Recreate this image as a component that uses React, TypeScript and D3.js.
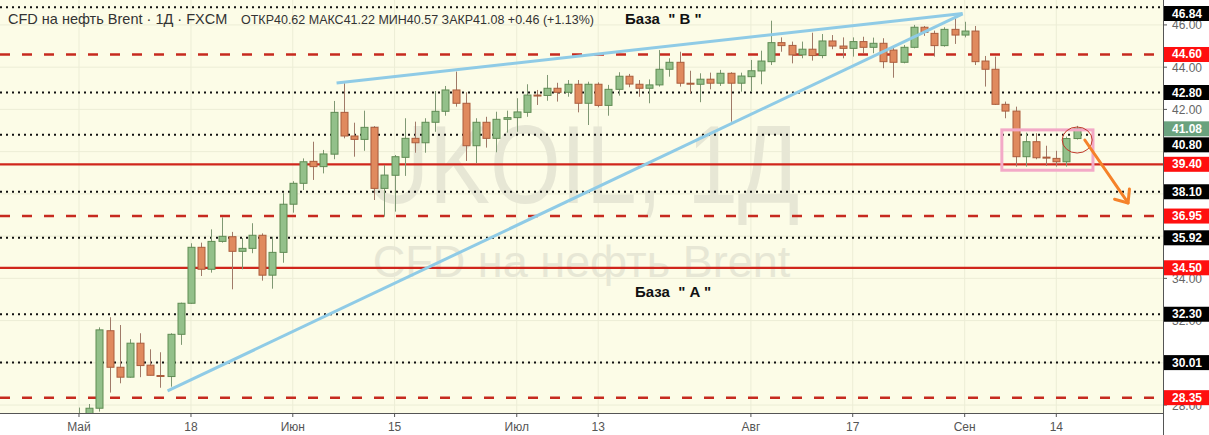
import React from 'react';
import * as d3 from 'd3';

// ---------- data ----------
const opens = [27.0, 27.3, 27.85, 31.52, 29.79, 29.32, 30.93, 29.89, 29.4, 29.35,
  31.35, 32.82, 35.47, 34.43, 35.75, 35.97, 35.28, 35.42, 36.04, 34.15,
  35.23, 37.51, 38.5, 39.54, 39.29, 39.88, 41.86, 40.74, 40.58, 41.15,
  38.26, 38.88, 39.73, 40.63, 40.42, 41.39, 41.91, 42.92, 42.29, 40.28,
  41.39, 40.63, 41.53, 41.61, 41.86, 42.68, 42.66, 43.0, 42.81, 43.19,
  42.29, 43.19, 42.19, 42.95, 43.57, 43.19, 43.0, 43.16, 43.9, 44.23,
  43.24, 43.19, 43.43, 43.24, 43.71, 43.24, 43.55, 43.82, 44.26, 45.16,
  45.03, 44.58, 44.85, 44.55, 45.24, 45.0, 44.89, 45.21, 44.94, 45.13,
  44.81, 44.23, 44.94, 45.89, 45.6, 45.02, 45.79, 45.52, 45.71, 44.29,
  43.9, 42.24, 41.92, 39.76, 40.47, 39.74, 39.68, 39.52, 40.62];
const highs = [27.88, 28.05, 31.68, 32.16, 31.79, 31.12, 31.4, 30.64, 30.5, 31.4,
  32.85, 35.66, 35.69, 36.32, 36.89, 36.2, 35.91, 36.61, 36.13, 35.97,
  38.03, 38.6, 39.68, 40.47, 40.08, 42.4, 43.24, 41.37, 41.94, 41.21,
  39.37, 39.84, 41.58, 41.42, 41.58, 42.87, 43.11, 43.79, 42.81, 41.58,
  41.65, 41.89, 41.94, 42.53, 43.19, 42.92, 43.63, 43.26, 43.39, 43.39,
  43.31, 43.28, 43.16, 43.76, 43.68, 43.39, 43.42, 44.81, 44.42, 44.73,
  43.83, 43.71, 43.74, 43.87, 43.76, 43.74, 44.34, 44.78, 46.2, 45.41,
  45.21, 45.21, 45.63, 45.57, 45.52, 45.41, 45.41, 45.44, 45.4, 45.37,
  44.97, 45.05, 46.0, 45.95, 45.73, 45.89, 46.31, 46.15, 45.95, 44.53,
  44.5, 42.37, 42.13, 40.9, 40.87, 40.28, 40.04, 40.71, 41.22];
const lows = [26.4, 27.2, 27.69, 28.59, 29.03, 29.3, 29.32, 29.41, 28.82, 28.87,
  30.85, 32.8, 34.11, 34.27, 35.69, 33.48, 34.43, 35.19, 33.89, 33.51,
  34.74, 37.11, 38.18, 38.66, 38.97, 39.64, 40.63, 39.76, 40.04, 37.71,
  36.92, 37.16, 38.85, 39.95, 39.95, 40.94, 41.7, 42.13, 39.56, 39.45,
  40.19, 39.97, 40.9, 40.94, 41.65, 42.21, 42.41, 42.37, 42.6, 41.86,
  41.26, 42.1, 41.7, 42.65, 43.05, 42.6, 42.29, 43.08, 43.55, 43.08,
  42.76, 42.34, 42.95, 43.11, 41.42, 42.84, 42.84, 43.19, 44.1, 44.73,
  44.18, 44.42, 44.31, 44.42, 44.85, 44.42, 44.5, 44.66, 44.66, 43.95,
  43.5, 44.18, 44.89, 45.48, 44.5, 44.97, 45.1, 45.41, 44.1, 43.08,
  42.21, 41.58, 39.29, 39.29, 39.64, 39.32, 39.29, 39.29, 40.57];
const closes = [27.4, 27.85, 31.56, 29.79, 29.32, 30.93, 29.87, 29.41, 29.38, 31.35,
  32.82, 35.47, 34.43, 35.75, 35.99, 35.28, 35.42, 36.04, 34.15, 35.23,
  37.51, 38.5, 39.52, 39.29, 39.89, 41.86, 40.74, 40.58, 41.15, 38.26,
  38.89, 39.76, 40.63, 40.42, 41.39, 41.91, 42.92, 42.29, 40.28, 41.39,
  40.63, 41.53, 41.61, 41.88, 42.68, 42.66, 43.0, 42.81, 43.19, 42.29,
  43.19, 42.19, 42.95, 43.57, 43.2, 43.0, 43.16, 43.9, 44.23, 43.24,
  43.22, 43.43, 43.24, 43.71, 43.24, 43.58, 43.83, 44.29, 45.16, 45.02,
  44.58, 44.85, 44.55, 45.24, 45.0, 44.89, 45.21, 44.94, 45.13, 44.26,
  44.23, 44.94, 45.89, 45.65, 45.02, 45.79, 45.52, 45.71, 44.26, 43.9,
  42.24, 41.92, 39.76, 40.47, 39.71, 39.72, 39.52, 40.62, 41.08];

// category axis: trading days (weekdays) from 1 May 2020
const firstDay = new Date(2020, 4, 1);
const days: Date[] = d3.timeDay.range(firstDay, new Date(2020, 8, 17)).filter(d => d.getDay() !== 0 && d.getDay() !== 6);

const tickDates = ['2020-05-01', '2020-05-18', '2020-06-01', '2020-06-15', '2020-07-01', '2020-07-13', '2020-08-03', '2020-08-17', '2020-09-01', '2020-09-14'];
const tickLabels = ['Май', '18', 'Июн', '15', 'Июл', '13', 'Авг', '17', 'Сен', '14'];

// grid every 2.00; only the price-scale labels not hidden under level tags are printed
const gridPrices = [28, 30, 32, 34, 36, 38, 40, 42, 44, 46];
const shownPriceLabels = [28, 32, 34, 42, 44, 46];

const levelPrices = [46.84, 44.60, 42.80, 40.80, 39.40, 38.10, 36.95, 35.92, 34.50, 32.30, 30.01, 28.35];
const levelStyles = ['dot', 'dash', 'dot', 'dot', 'solid', 'dot', 'dash', 'dot', 'solid', 'dot', 'dot', 'dash'];
const lastPrice = 41.08;

// annotations (bar index, price)
const trendA = [[25.3, 43.25], [86.8, 46.54]];
const trendB = [[8.7, 28.67], [86.8, 46.52]];
const boxCorners = [[90.65, 41.03], [99.6, 39.12]];
const circleCenter = [98.05, 40.55];
const arrowPts = [[98.8, 40.55], [103.05, 37.57]];

const headerTitle = 'CFD на нефть Brent · 1Д · FXCM';
const headerOHLC = 'ОТКР40.62 МАКС41.22 МИН40.57 ЗАКР41.08 +0.46 (+1.13%)';

// ---------- layout ----------
const W = 1209, H = 435;
const PR = 1163, PB = 413;
const FONT = '"Liberation Sans", Arial, sans-serif';

export default function App() {
  const x = d3.scaleLinear().domain([-7.76, 106.48]).range([0, PR]);
  const y = d3.scaleLinear().domain([27.624, 47.18]).range([PB, 0]);
  const fmt = d3.timeFormat('%Y-%m-%d');
  const dayIndex = new Map(days.map((d, i) => [fmt(d), i]));

  const bars = closes.map((c, i) => ({ i, o: opens[i], h: highs[i], l: lows[i], c }));

  const green = { fill: '#93c08a', stroke: '#5f8b53', wick: '#7f9873' };
  const red = { fill: '#e08a5e', stroke: '#ab5d3d', wick: '#a07a68' };

  // price labels with collision avoidance
  const labels: any[] = levelPrices.map((p, k) => ({ p, kind: levelStyles[k], yc: y(p) }));
  labels.push({ p: lastPrice, kind: 'last', yc: y(lastPrice) });
  labels.sort((a, b) => a.yc - b.yc);
  const LH = 15;
  let prevBottom = 5;
  labels.forEach(lb => {
    let top = lb.yc - LH / 2;
    if (top < prevBottom + 1) top = prevBottom + 1;
    lb.top = top;
    prevBottom = top + LH;
  });

  const lineStyle = (k: string) => {
    if (k === 'dot') return { stroke: '#111', strokeWidth: 2, strokeDasharray: '2 4' };
    if (k === 'dash') return { stroke: '#c62a1f', strokeWidth: 2.5, strokeDasharray: '10 12' };
    return { stroke: '#d0261c', strokeWidth: 2.2, strokeDasharray: undefined };
  };
  const labelFill = (k: string) => (k === 'dot' ? '#000' : k === 'last' ? '#6aa27e' : '#ff0f0f');

  const a0 = arrowPts[0], a1 = arrowPts[1];
  const ax0 = x(a0[0]), ay0 = y(a0[1]), ax1 = x(a1[0]), ay1 = y(a1[1]);
  const ang = Math.atan2(ay0 - ay1, ax0 - ax1);
  const headL = 14;
  const h1 = [ax1 + headL * Math.cos(ang - 0.7), ay1 + headL * Math.sin(ang - 0.7)];
  const h2 = [ax1 + headL * Math.cos(ang + 0.7), ay1 + headL * Math.sin(ang + 0.7)];

  const line = d3.line<number[]>().x(d => x(d[0])).y(d => y(d[1]));

  return (
    <svg width={W} height={H} style={{ position: 'absolute', left: 0, top: 0, fontFamily: FONT }}>
      <defs>
        <clipPath id="plot"><rect x={0} y={0} width={PR} height={PB} /></clipPath>
      </defs>
      <rect x={0} y={0} width={W} height={H} fill="#fff" />
      <rect x={0} y={0} width={PR} height={PB} fill="#fcfce7" />
      {/* grid */}
      {gridPrices.map(p => (
        <line key={'g' + p} x1={0} x2={PR} y1={y(p)} y2={y(p)} stroke="#ecedd6" strokeWidth={1} />
      ))}
      {tickDates.map(td => {
        const xi = x(dayIndex.get(td) as number);
        return <line key={'v' + td} x1={xi} x2={xi} y1={0} y2={PB} stroke="#ecedd6" strokeWidth={1} />;
      })}
      {/* watermark */}
      <text x={PR / 2} y={203} textAnchor="middle" fontSize={112} textLength={436} lengthAdjust="spacingAndGlyphs" fill="#e7e7d5" fontFamily={FONT}>UKOIL, 1Д</text>
      <text x={PR / 2} y={277} textAnchor="middle" fontSize={45} fill="#e7e7d5" fontFamily={FONT}>CFD на нефть Brent</text>
      <g clipPath="url(#plot)">
        {/* level lines */}
        {levelPrices.map((p, k) => {
          const s = lineStyle(levelStyles[k]);
          return <line key={'l' + p} x1={0} x2={PR} y1={y(p)} y2={y(p)} stroke={s.stroke} strokeWidth={s.strokeWidth} strokeDasharray={s.strokeDasharray} />;
        })}
        {/* candles */}
        {bars.map(b => {
          const col = b.c >= b.o ? green : red;
          const cx = Math.round(x(b.i)) + 0.5;
          const yt = y(Math.max(b.o, b.c)), yb = y(Math.min(b.o, b.c));
          const bh = Math.max(1, yb - yt);
          return (
            <g key={'c' + b.i}>
              <line x1={cx} x2={cx} y1={y(b.h)} y2={y(b.l)} stroke={col.wick} strokeWidth={1} />
              <rect x={cx - 3.5} y={yt} width={7} height={bh} fill={col.fill} stroke={col.stroke} strokeWidth={1} />
            </g>
          );
        })}
        {/* trend lines */}
        <path d={line(trendA) as string} stroke="#8fcbe6" strokeWidth={3} fill="none" />
        <path d={line(trendB) as string} stroke="#8fcbe6" strokeWidth={3} fill="none" />
        {/* consolidation box */}
        <rect x={x(boxCorners[0][0])} y={y(boxCorners[0][1])} width={x(boxCorners[1][0]) - x(boxCorners[0][0])} height={y(boxCorners[1][1]) - y(boxCorners[0][1])} fill="none" stroke="#f3a9c7" strokeWidth={3} />
        <ellipse cx={x(circleCenter[0])} cy={y(circleCenter[1])} rx={15} ry={13} fill="none" stroke="#c0392b" strokeWidth={1} />
        <line x1={ax0} y1={ay0} x2={ax1} y2={ay1} stroke="#f5822a" strokeWidth={3} strokeLinecap="round" />
        <polyline points={`${h1[0]},${h1[1]} ${ax1},${ay1} ${h2[0]},${h2[1]}`} fill="none" stroke="#f5822a" strokeWidth={3} strokeLinecap="round" strokeLinejoin="round" />
      </g>
      {/* annotation texts */}
      <text x={625} y={24} fontSize={15} fontWeight="bold" fill="#111" style={{ whiteSpace: 'pre' }}>{'База  " B "'}</text>
      <text x={635} y={297} fontSize={15} fontWeight="bold" fill="#111" style={{ whiteSpace: 'pre' }}>{'База  " A "'}</text>
      {/* header */}
      <text x={8} y={24} fontSize={14.5} fill="#333">{headerTitle}</text>
      <text x={241} y={24} fontSize={12.5} fill="#333">{headerOHLC}</text>
      {/* axes */}
      <line x1={0} x2={PR} y1={PB + 0.5} y2={PB + 0.5} stroke="#555" />
      <line x1={PR + 0.5} x2={PR + 0.5} y1={0} y2={H} stroke="#555" />
      {tickDates.map((td, k) => {
        const xi = x(dayIndex.get(td) as number);
        return (
          <g key={'t' + td}>
            <line x1={xi} x2={xi} y1={PB} y2={PB + 4} stroke="#555" />
            <text x={xi} y={431} textAnchor="middle" fontSize={12} fill="#555">{tickLabels[k]}</text>
          </g>
        );
      })}
      {gridPrices.map(p => (
        <line key={'pt' + p} x1={PR} x2={PR + 4} y1={y(p)} y2={y(p)} stroke="#555" />
      ))}
      {shownPriceLabels.map(p => (
        <text key={'ptl' + p} x={1172} y={y(p) + 4.5} fontSize={12} fill="#666">{p.toFixed(2)}</text>
      ))}
      {labels.map((lb: any) => (
        <g key={'lb' + lb.p}>
          <rect x={PR + 1} y={lb.top} width={W - PR - 1} height={LH} fill={labelFill(lb.kind)} />
          <text x={1172} y={lb.top + 11.5} fontSize={12} fontWeight="bold" fill="#fff">{lb.p.toFixed(2)}</text>
        </g>
      ))}
    </svg>
  );
}
